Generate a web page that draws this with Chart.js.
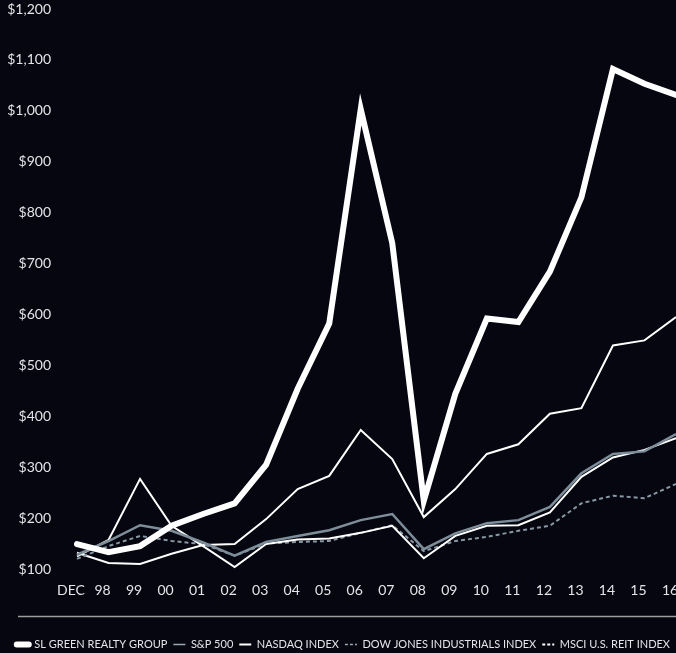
<!DOCTYPE html>
<html>
<head>
<meta charset="utf-8">
<script src="https://cdn.jsdelivr.net/npm/chart.js@4"></script>
<style>
  html, body { margin: 0; padding: 0; background: #05060f; overflow: hidden; }
  #wrap { width: 676px; height: 653px; }
</style>
</head>
<body>
<div id="wrap"><canvas id="myChart"></canvas></div>
<script>
// x labels, first point is Dec 97 base
var years = ['DEC','98','99','00','01','02','03','04','05','06','07','08','09','10','11','12','13','14','15','16'];

var slGreen = [149,133,145,185,208,229,305,454,582,1003,740,234,444,592,585,684,830,1082,1053,1031];
var sp500   = [128,155,186,175,152,126,153,165,176,196,208,139,170,190,196,222,288,326,331,365];
var nasdaq  = [125,157,277,185,145,104,149,158,160,171,185,121,165,185,186,211,281,319,334,357];
var dowJones = [120,145,165,155,149,126,150,153,155,171,186,135,155,163,175,185,229,244,239,267];
var msciReit = [132,112,110,130,147,149,198,257,283,373,316,202,257,326,345,405,416,539,549,595];

var yMin = 100, yMax = 1200, yStep = 100;

var white = '#ffffff';
var slate = '#7d8d99';
var textCol = '#e4e4e8';

// legend look (reference legend differs a bit from the drawn lines)
var legendStyle = [
  {w: 6, color: white, dash: [], cap: 'round'},
  {w: 1.5, color: '#9aa6b0', dash: [], cap: 'butt'},
  {w: 2, color: white, dash: [], cap: 'butt'},
  {w: 1.5, color: '#9aa6b0', dash: [3, 2], cap: 'butt'},
  {w: 2, color: white, dash: [3, 2], cap: 'butt'}
];

var bgPlugin = {
  id: 'bg',
  beforeDraw: function(chart) {
    var c = chart.ctx;
    c.save();
    c.fillStyle = '#05060f';
    c.fillRect(0, 0, chart.width, chart.height);
    c.restore();
  },
  afterDraw: function(chart) {
    // thin rule above legend
    var c = chart.ctx;
    var y = Math.round(chart.legend.top) - 16.5;
    c.save();
    c.strokeStyle = '#9c9c9c';
    c.lineWidth = 1.5;
    c.beginPath();
    c.moveTo(18, y);
    c.lineTo(chart.width, y);
    c.stroke();
    c.restore();
  }
};

var ctx = document.getElementById('myChart').getContext('2d');
var myChart = new Chart(ctx, {
  type: 'line',
  data: {
    labels: years,
    datasets: [{
        label: 'SL GREEN REALTY GROUP',
        data: slGreen,
        borderColor: white,
        borderWidth: 6,
        borderCapStyle: 'round'
      }, {
        label: 'S&P 500',
        data: sp500,
        borderColor: slate,
        borderWidth: 2.5
      }, {
        label: 'NASDAQ INDEX',
        data: nasdaq,
        borderColor: white,
        borderWidth: 2
      }, {
        label: 'DOW JONES INDUSTRIALS INDEX',
        data: dowJones,
        borderColor: '#8797a4',
        borderWidth: 2,
        borderDash: [4, 3]
      }, {
        label: 'MSCI U.S. REIT INDEX',
        data: msciReit,
        borderColor: white,
        borderWidth: 2
      }
    ]
  },
  options: {
    responsive: true,
    maintainAspectRatio: false,
    animation: false,
    layout: { padding: { top: 0, right: 0, left: 0, bottom: -7 } },
    elements: {
      point: { radius: 0 },
      line: { tension: 0, fill: false }
    },
    plugins: {
      tooltip: { enabled: false },
      legend: {
        position: 'bottom',
        align: 'end',
        labels: {
          color: textCol,
          font: { family: 'Lato', size: 11 },
          usePointStyle: true,
          pointStyleWidth: 12,
          padding: 6,
          generateLabels: function(chart) {
            return chart.data.datasets.map(function(ds, i) {
              var s = legendStyle[i];
              return {
                text: ds.label,
                fillStyle: s.color,
                strokeStyle: s.color,
                fontColor: textCol,
                lineWidth: s.w,
                lineDash: s.dash,
                lineCap: s.cap,
                pointStyle: 'line',
                datasetIndex: i,
                hidden: false
              };
            });
          }
        }
      }
    },
    scales: {
      x: {
        grid: { display: false, drawTicks: false },
        border: { display: false },
        ticks: {
          color: textCol,
          font: { family: 'Lato', size: 14 },
          padding: 13,
          labelOffset: -6,
          autoSkip: false,
          maxRotation: 0
        },
        afterFit: function(scale) {
          scale.paddingRight = 0;
          scale.height = 64;
        }
      },
      y: {
        min: yMin,
        max: yMax,
        grid: { display: false, drawTicks: false },
        border: { display: false },
        ticks: {
          stepSize: yStep,
          color: textCol,
          font: { family: 'Lato', size: 14 },
          padding: 26,
          callback: function(v) { return '$' + v.toLocaleString('en-US'); }
        },
        afterFit: function(scale) {
          scale.width = 77;
          scale.paddingTop = 9;
          scale.paddingBottom = 0;
        }
      }
    }
  },
  plugins: [bgPlugin]
});
</script>
</body>
</html>
